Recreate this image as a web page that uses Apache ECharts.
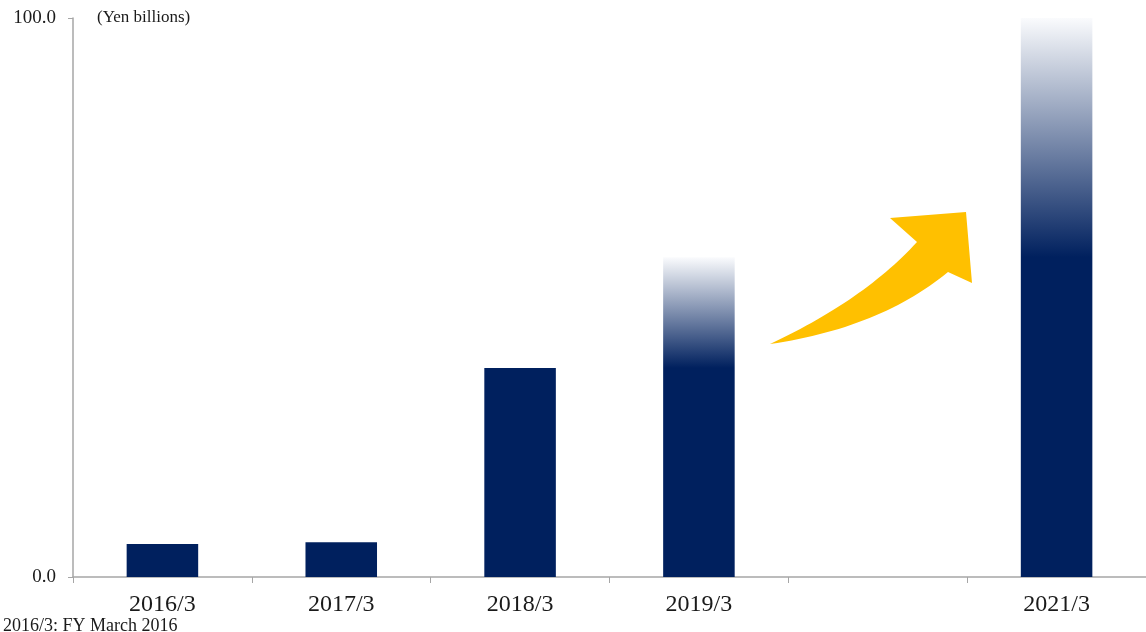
<!DOCTYPE html>
<html>
<head>
<meta charset="utf-8">
<script src="https://cdn.jsdelivr.net/npm/echarts@6/dist/echarts.min.js"></script>
<style>
html,body{margin:0;padding:0;background:#fff;}
#chart{width:1146px;height:632px;}
</style>
</head>
<body>
<div id="chart"></div>
<script>
// ---- data ----
const categories = ['2016/3', '2017/3', '2018/3', '2019/3', '2020/3', '2021/3'];
const tickLabels = ['2016/3', '2017/3', '2018/3', '2019/3', '', '2021/3'];
const values = [5.9, 6.2, 37.4, 57.2, null, 100];
// level below which a faded (forecast) bar is solid
const solidUpTo = [null, null, null, 37.4, null, 57.2];
const yTicks = [0, 100];
const unitLabel = '(Yen billions)';
const footnote = '2016/3: FY March 2016';

const DARK = '#00205e';
const FONT = '"Liberation Serif", "Times New Roman", serif';

const seriesData = values.map((v, i) => {
  if (v == null) return null;
  const base = solidUpTo[i];
  if (base == null) return v;
  const s = (v - base) / v;
  return {
    value: v,
    itemStyle: {
      color: {
        type: 'linear', x: 0, y: 0, x2: 0, y2: 1,
        colorStops: [
          { offset: 0, color: '#fafbfd' },
          { offset: s, color: DARK },
          { offset: 1, color: DARK }
        ]
      }
    }
  };
});

// decorative curved arrow outline (quadratic curves sampled to a polygon)
function quad(p0, c, p1, n) {
  const pts = [];
  for (let k = 0; k <= n; k++) {
    const t = k / n, u = 1 - t;
    pts.push([u * u * p0[0] + 2 * u * t * c[0] + t * t * p1[0],
              u * u * p0[1] + 2 * u * t * c[1] + t * t * p1[1]]);
  }
  return pts;
}
const arrowPts = []
  .concat(quad([770, 344], [864, 300], [917, 242], 30))
  .concat([[890, 218], [966, 212], [972, 283]])
  .concat(quad([948, 272], [880, 328], [770, 344], 30));

const chart = echarts.init(document.getElementById('chart'), null, { renderer: 'canvas' });
chart.setOption({
  animation: false,
  backgroundColor: '#ffffff',
  grid: { left: 73, right: 0, top: 18, bottom: 55 },
  xAxis: {
    type: 'category',
    data: categories,
    axisLine: { lineStyle: { color: '#a6a6a6', width: 1.5 } },
    axisTick: { show: true, length: 6, lineStyle: { color: '#a6a6a6' } },
    axisLabel: {
      formatter: (val, idx) => tickLabels[idx],
      fontFamily: FONT, fontSize: 24, color: '#1a1a1a', margin: 16
    }
  },
  yAxis: {
    type: 'value',
    min: yTicks[0], max: yTicks[yTicks.length - 1], interval: yTicks[1] - yTicks[0],
    splitLine: { show: false },
    axisLine: { show: true, lineStyle: { color: '#a6a6a6', width: 1.5 } },
    axisTick: { show: true, length: 5, lineStyle: { color: '#a6a6a6' } },
    axisLabel: {
      formatter: v => v.toFixed(1),
      fontFamily: FONT, fontSize: 19, color: '#1a1a1a', margin: 17
    }
  },
  series: [{
    type: 'bar',
    data: seriesData,
    barCategoryGap: '60%',
    itemStyle: { color: DARK }
  }],
  graphic: [
    {
      type: 'text', left: 97, top: 9,
      style: { text: unitLabel, font: '17px ' + FONT, fill: '#1a1a1a' }
    },
    {
      type: 'text', left: 3, top: 617,
      style: { text: footnote, font: '18px ' + FONT, fill: '#1a1a1a' }
    },
    {
      type: 'polygon',
      shape: { points: arrowPts },
      style: { fill: '#ffc000' }
    }
  ]
});
</script>
</body>
</html>
